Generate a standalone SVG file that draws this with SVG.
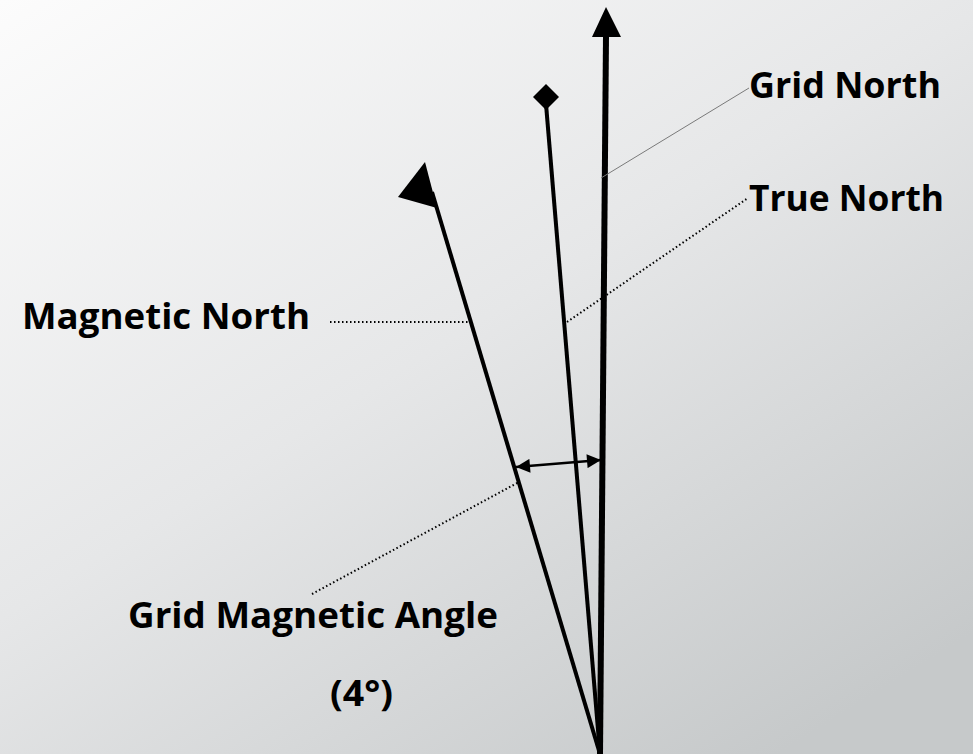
<svg xmlns="http://www.w3.org/2000/svg" width="973" height="754" viewBox="0 0 973 754">
  <defs>
    <linearGradient id="bg" x1="0" y1="0" x2="0.8" y2="1">
      <stop offset="0" stop-color="#fcfcfc"/>
      <stop offset="0.5" stop-color="#e6e7e8"/>
      <stop offset="1" stop-color="#c6c9ca"/>
    </linearGradient>
    <marker id="ah" viewBox="0 0 10 10" refX="10" refY="5" markerWidth="16" markerHeight="14" markerUnits="userSpaceOnUse" orient="auto-start-reverse">
      <path d="M0,0 L10,5 L0,10 z" fill="#000"/>
    </marker>
  </defs>
  <style>
    .lbl { font-family: "Open Sans", "Liberation Sans", sans-serif; font-weight: 700; font-size: 36px; fill: #000; }
    .axis { stroke: #000; fill: none; stroke-linecap: butt; }
    .dot { stroke: #000; stroke-width: 2; stroke-dasharray: 1.5 2.5; fill: none; }
    .thin { stroke: #7a7a7a; stroke-width: 1; fill: none; }
  </style>
  <rect width="973" height="754" fill="url(#bg)"/>

  <g id="grid-north">
    <line class="axis" x1="600" y1="754" x2="606" y2="36" stroke-width="6"/>
    <polygon points="606,7 621,37 592,37" fill="#000"/>
  </g>
  <g id="true-north">
    <line class="axis" x1="600" y1="754" x2="546" y2="104" stroke-width="4"/>
    <polygon points="546,84 559,97 546,110 533,97" fill="#000"/>
  </g>
  <g id="magnetic-north">
    <line class="axis" x1="600" y1="754" x2="432" y2="192" stroke-width="4"/>
    <polygon points="425,162 437,208 398,197" fill="#000"/>
  </g>
  <g id="angle">
    <line x1="516" y1="467" x2="601" y2="460" stroke="#000" stroke-width="2.5" marker-start="url(#ah)" marker-end="url(#ah)"/>
  </g>

  <g id="connectors">
    <line class="thin" x1="601" y1="178" x2="749" y2="88"/>
    <line class="dot" x1="567" y1="322" x2="748" y2="198"/>
    <line class="dot" x1="330" y1="322" x2="470" y2="322"/>
    <line class="dot" x1="312" y1="594" x2="519" y2="482"/>
  </g>

  <g id="label-grid-north"><text class="lbl" x="749" y="98" textLength="192" lengthAdjust="spacingAndGlyphs">Grid North</text></g>
  <g id="label-true-north"><text class="lbl" x="749" y="211" textLength="195" lengthAdjust="spacingAndGlyphs">True North</text></g>
  <g id="label-magnetic-north"><text class="lbl" x="22" y="329" textLength="288" lengthAdjust="spacingAndGlyphs">Magnetic North</text></g>
  <g id="label-angle"><text class="lbl" x="128" y="628" textLength="370" lengthAdjust="spacingAndGlyphs">Grid Magnetic Angle</text></g>
  <g id="label-degrees"><text class="lbl" x="330" y="706" textLength="63" lengthAdjust="spacingAndGlyphs">(4°)</text></g>
</svg>
